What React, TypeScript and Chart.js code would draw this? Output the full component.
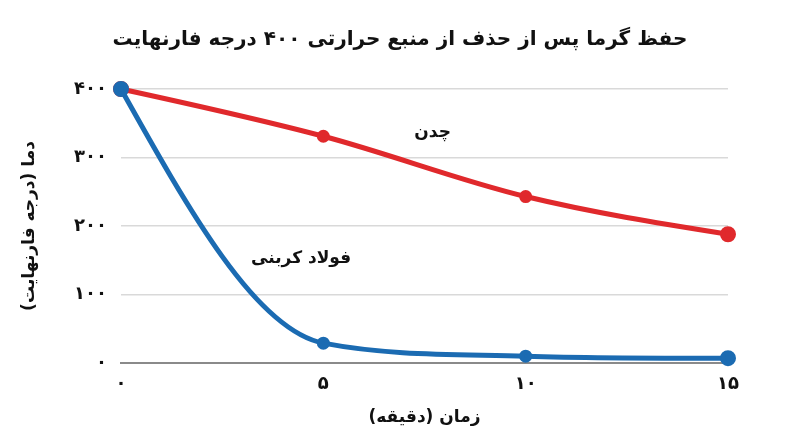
import React, { useEffect, useRef } from 'react';
import { Chart, registerables } from 'chart.js';

Chart.register(...registerables);

const chartTitle = 'حفظ گرما پس از حذف از منبع حرارتی ۴۰۰ درجه فارنهایت';
const xAxisTitle = 'زمان (دقیقه)';
const yAxisTitle = 'دما (درجه فارنهایت)';

const minutes = ['۰', '۵', '۱۰', '۱۵'];
const castIronLabel = 'چدن';
const castIron = [400, 331, 243, 188];
const carbonSteelLabel = 'فولاد کربنی';
const carbonSteel = [400, 29, 10, 7];

const yTickLabels = ['۰', '۱۰۰', '۲۰۰', '۳۰۰', '۴۰۰'];

const FONT = '"DejaVu Sans", sans-serif';
const RED = '#e0292c';
const BLUE = '#1b6bb2';

// series names drawn next to the lines instead of a legend
const seriesLabels = {
  id: 'seriesLabels',
  afterDatasetsDraw(chart: Chart) {
    const { ctx, scales } = chart;
    const x = scales.x;
    const y = scales.y;
    const step = x.getPixelForValue(1) - x.getPixelForValue(0);
    ctx.save();
    ctx.font = `bold 17px ${FONT}`;
    ctx.fillStyle = '#111';
    ctx.textAlign = 'center';
    ctx.textBaseline = 'middle';
    ctx.fillText(castIronLabel, x.getPixelForValue(0) + step * 1.54, y.getPixelForValue(336));
    ctx.fillText(carbonSteelLabel, x.getPixelForValue(0) + step * 0.89, y.getPixelForValue(153));
    ctx.restore();
  },
};

// Spreadsheet-like smoothing: monotone interior tangents, "natural" end tangents.
// Chart.js computes the points from the scales, we only move the bezier handles.
const smoothLines = {
  id: 'smoothLines',
  beforeDatasetDraw(chart: Chart, args: any) {
    const meta = args.meta;
    const line = meta.dataset;
    if (!line) return;
    line.updateControlPoints(chart.chartArea, meta.iAxis);
    const pts = meta.data as any[];
    const n = pts.length;
    if (n < 3) return;
    const d: number[] = [];
    for (let i = 0; i < n - 1; i++) {
      d.push((pts[i + 1].y - pts[i].y) / (pts[i + 1].x - pts[i].x));
    }
    const m: number[] = new Array(n).fill(0);
    for (let i = 1; i < n - 1; i++) {
      m[i] = (pts[i + 1].y - pts[i - 1].y) / (pts[i + 1].x - pts[i - 1].x);
    }
    // keep segments monotone
    for (let i = 1; i < n - 1; i++) {
      for (const k of [i - 1, i]) {
        if (d[k] === 0) {
          m[i] = 0;
        } else if (m[i] / d[k] > 3) {
          m[i] = 3 * d[k];
        }
      }
    }
    m[0] = (3 * d[0] - m[1]) / 2;
    m[n - 1] = (3 * d[n - 2] - m[n - 2]) / 2;
    for (let i = 0; i < n; i++) {
      const p = pts[i];
      if (i > 0) {
        const h = (p.x - pts[i - 1].x) / 3;
        p.cp1x = p.x - h;
        p.cp1y = p.y - m[i] * h;
      }
      if (i < n - 1) {
        const h = (pts[i + 1].x - p.x) / 3;
        p.cp2x = p.x + h;
        p.cp2y = p.y + m[i] * h;
      }
    }
  },
};

// end points a bit larger than the middle ones
const pointSize = (c: any) => (c.dataIndex === 0 || c.dataIndex === minutes.length - 1 ? 5.5 : 4);

export default function App() {
  const canvasRef = useRef<HTMLCanvasElement>(null);

  useEffect(() => {
    if (!canvasRef.current) return;
    const chart = new Chart(canvasRef.current, {
      type: 'line',
      data: {
        labels: minutes,
        datasets: [
          {
            label: carbonSteelLabel,
            data: carbonSteel,
            borderColor: BLUE,
            backgroundColor: BLUE,
            borderWidth: 5,
            pointRadius: pointSize,
            pointHoverRadius: pointSize,
            tension: 0.4,
            clip: false,
            order: 0,
            yAxisID: 'y',
          },
          {
            label: castIronLabel,
            data: castIron,
            borderColor: RED,
            backgroundColor: RED,
            borderWidth: 5,
            pointRadius: pointSize,
            pointHoverRadius: pointSize,
            tension: 0.4,
            clip: false,
            order: 1,
            yAxisID: 'y',
          },
        ],
      },
      options: {
        animation: false,
        responsive: true,
        maintainAspectRatio: false,
        layout: { padding: { top: 0, left: 15, right: 15, bottom: 19 } },
        plugins: {
          legend: { display: false },
          tooltip: { enabled: false },
          title: {
            display: true,
            text: chartTitle,
            color: '#111',
            font: { family: FONT, size: 20, weight: 'bold' },
            padding: { top: 28, bottom: 37 },
          },
        },
        scales: {
          x: {
            offset: false,
            grid: { display: false, drawTicks: false },
            border: { display: true, color: '#8a8a8a', width: 2 },
            ticks: {
              color: '#111',
              padding: 11,
              font: { family: FONT, size: 18, weight: 'bold' },
            },
            title: {
              display: true,
              text: xAxisTitle,
              color: '#111',
              padding: { top: 1, bottom: 0 },
              font: { family: FONT, size: 17, weight: 'bold' },
            },
          },
          y: {
            min: 0,
            max: 400,
            afterFit: (scale: any) => {
              scale.width = 106;
            },
            grid: { color: '#d9d9d9', lineWidth: 1.5, drawTicks: false },
            border: { display: false },
            ticks: {
              stepSize: 100,
              color: '#111',
              padding: 14,
              font: { family: FONT, size: 18, weight: 'bold' },
              callback: (_v: any, i: number) => yTickLabels[i],
            },
            title: {
              display: true,
              text: yAxisTitle,
              color: '#111',
              padding: { top: 4, bottom: 4 },
              font: { family: FONT, size: 17, weight: 'bold' },
            },
          },
          // empty axis on the right, only to keep the blank margin there
          yRight: {
            position: 'right',
            min: 0,
            max: 400,
            afterFit: (scale: any) => {
              scale.width = 57;
            },
            grid: { display: false },
            border: { display: false },
            ticks: { display: false },
          },
        },
      },
      plugins: [smoothLines, seriesLabels],
    });
    return () => chart.destroy();
  }, []);

  return (
    <div style={{ position: 'fixed', left: 0, top: 0, width: 800, height: 447, background: '#fff' }}>
      <canvas ref={canvasRef} dir="rtl"></canvas>
    </div>
  );
}
